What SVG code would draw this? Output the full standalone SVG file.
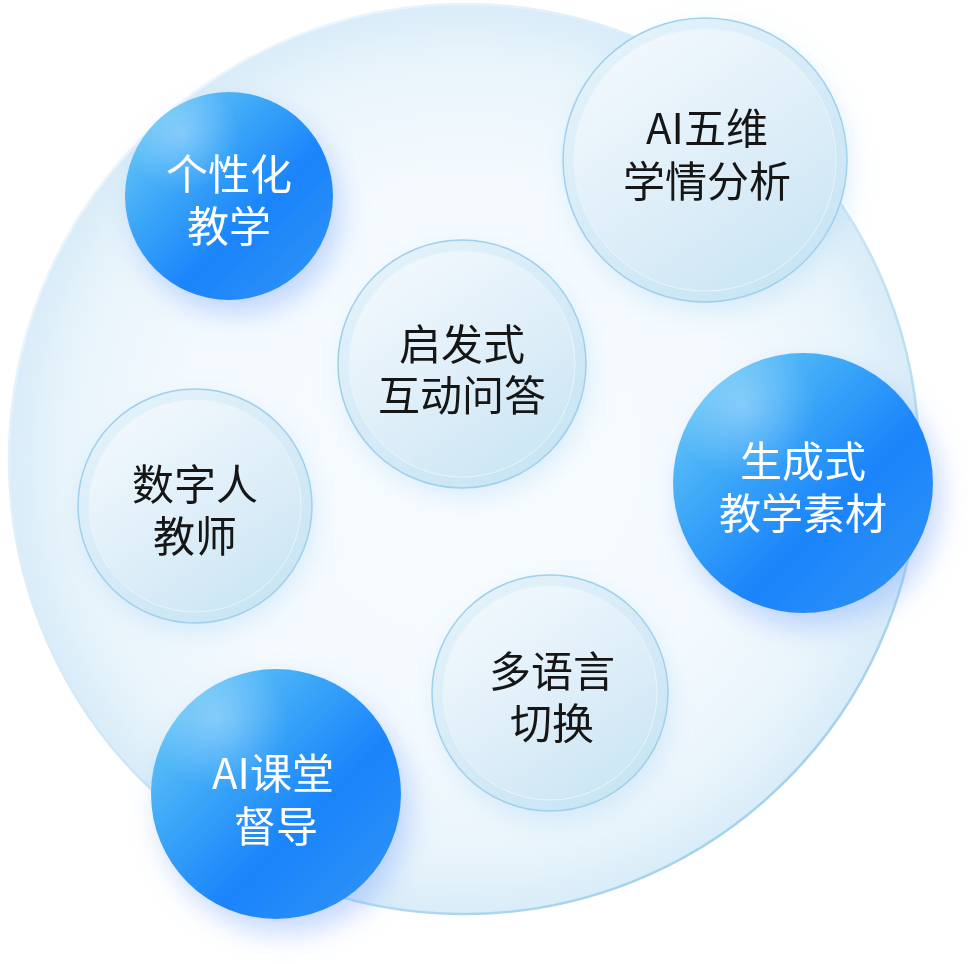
<svg xmlns="http://www.w3.org/2000/svg" width="976" height="964" viewBox="0 0 976 964">
  <defs>
    <radialGradient id="bigFill" cx="0.5" cy="0.5" r="0.5">
      <stop offset="0" stop-color="#f8fcff"/>
      <stop offset="0.62" stop-color="#f4fafe"/>
      <stop offset="0.88" stop-color="#e8f4fb"/>
      <stop offset="1" stop-color="#d9ecf8"/>
    </radialGradient>
    <linearGradient id="bigStroke" x1="0.1" y1="0.1" x2="0.8" y2="0.95">
      <stop offset="0" stop-color="#f0f8fd"/>
      <stop offset="0.5" stop-color="#cfe8f6"/>
      <stop offset="1" stop-color="#9fd0ec"/>
    </linearGradient>
    <linearGradient id="blueFill" x1="0.1" y1="0.15" x2="0.85" y2="0.9">
      <stop offset="0" stop-color="#62c3f7"/>
      <stop offset="0.3" stop-color="#3ba6f8"/>
      <stop offset="0.65" stop-color="#1a84fb"/>
      <stop offset="1" stop-color="#2c90f7"/>
    </linearGradient>
    <radialGradient id="blueHi" cx="0.27" cy="0.2" r="0.28">
      <stop offset="0" stop-color="#ffffff" stop-opacity="0.3"/>
      <stop offset="1" stop-color="#ffffff" stop-opacity="0"/>
    </radialGradient>
    <linearGradient id="ringFill" x1="0.2" y1="0.1" x2="0.8" y2="0.9">
      <stop offset="0" stop-color="#e2f1fa"/>
      <stop offset="1" stop-color="#c9e5f4"/>
    </linearGradient>
    <linearGradient id="innerFill" x1="0.2" y1="0.05" x2="0.8" y2="0.95">
      <stop offset="0" stop-color="#f1f8fd"/>
      <stop offset="0.6" stop-color="#dcedf8"/>
      <stop offset="1" stop-color="#cbe6f4"/>
    </linearGradient>
    <filter id="blueShadow" x="-40%" y="-40%" width="180%" height="190%">
      <feGaussianBlur in="SourceAlpha" stdDeviation="14"/>
      <feOffset dx="8" dy="14" result="b"/>
      <feFlood flood-color="#7fa9ff" flood-opacity="0.45"/>
      <feComposite in2="b" operator="in"/>
      <feMerge><feMergeNode/><feMergeNode in="SourceGraphic"/></feMerge>
    </filter>
    <filter id="lightShadow" x="-40%" y="-40%" width="180%" height="190%">
      <feGaussianBlur in="SourceAlpha" stdDeviation="12"/>
      <feOffset dx="4" dy="10" result="b"/>
      <feFlood flood-color="#a7d3f2" flood-opacity="0.35"/>
      <feComposite in2="b" operator="in"/>
      <feMerge><feMergeNode/><feMergeNode in="SourceGraphic"/></feMerge>
    </filter>
  </defs>
  <style>
    .lbl { font-family: "Noto Sans CJK SC", "Noto Sans", sans-serif; font-size: 42px; text-anchor: middle; }
    .dark { fill: #161616; }
    .white { fill: #ffffff; }
    .ring { fill: url(#ringFill); stroke: #9fd0ec; stroke-width: 1.5; }
    .inner { fill: url(#innerFill); stroke: #e9f5fc; stroke-width: 1; }
    .blue { fill: url(#blueFill); }
    .hi { fill: url(#blueHi); }
  </style>

  <g id="background">
    <circle cx="464" cy="459" r="455" fill="url(#bigFill)" stroke="url(#bigStroke)" stroke-width="2.5"/>
  </g>

  <g id="connectors"/>

  <g id="node-qifashi" filter="url(#lightShadow)">
    <circle class="ring" cx="462" cy="364" r="124"/>
    <circle class="inner" cx="462" cy="364" r="113"/>
    <text class="lbl dark"><tspan x="462" y="360">启发式</tspan><tspan x="462" y="411">互动问答</tspan></text>
  </g>

  <g id="node-shuziren" filter="url(#lightShadow)">
    <circle class="ring" cx="195" cy="506" r="117"/>
    <circle class="inner" cx="195" cy="506" r="106"/>
    <text class="lbl dark"><tspan x="195" y="500">数字人</tspan><tspan x="195" y="552">教师</tspan></text>
  </g>

  <g id="node-duoyuyan" filter="url(#lightShadow)">
    <circle class="ring" cx="550" cy="693" r="118"/>
    <circle class="inner" cx="550" cy="693" r="107"/>
    <text class="lbl dark"><tspan x="552" y="687">多语言</tspan><tspan x="552" y="739">切换</tspan></text>
  </g>

  <g id="node-ai-wuwei" filter="url(#lightShadow)">
    <circle class="ring" cx="705" cy="160" r="142"/>
    <circle class="inner" cx="705" cy="160" r="131"/>
    <text class="lbl dark"><tspan x="707" y="144">AI五维</tspan><tspan x="707" y="197">学情分析</tspan></text>
  </g>

  <g id="node-gexinghua" filter="url(#blueShadow)">
    <circle class="blue" cx="229" cy="196" r="104"/>
    <circle class="hi" cx="229" cy="196" r="104"/>
    <text class="lbl white"><tspan x="229" y="190">个性化</tspan><tspan x="229" y="242">教学</tspan></text>
  </g>

  <g id="node-shengchengshi" filter="url(#blueShadow)">
    <circle class="blue" cx="803" cy="483" r="130"/>
    <circle class="hi" cx="803" cy="483" r="130"/>
    <text class="lbl white"><tspan x="803" y="477">生成式</tspan><tspan x="803" y="529">教学素材</tspan></text>
  </g>

  <g id="node-ai-ketang" filter="url(#blueShadow)">
    <circle class="blue" cx="276" cy="794" r="125"/>
    <circle class="hi" cx="276" cy="794" r="125"/>
    <text class="lbl white"><tspan x="273" y="789">AI课堂</tspan><tspan x="276" y="842">督导</tspan></text>
  </g>
</svg>
